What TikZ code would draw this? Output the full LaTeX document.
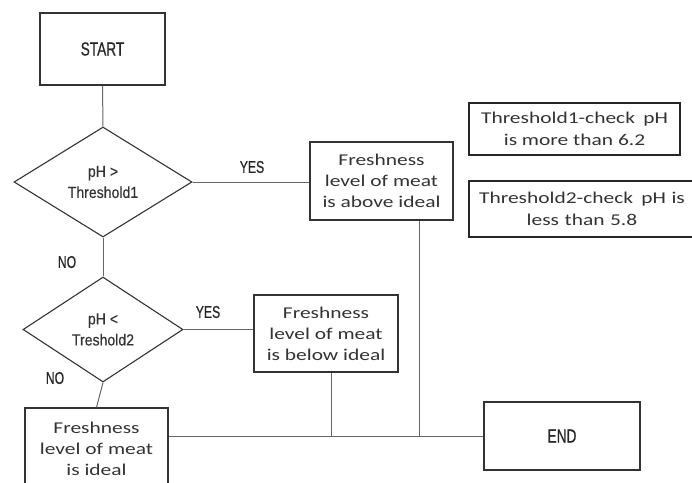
\documentclass[tikz,border=0pt]{standalone}
\usepackage{fontspec}
\setmainfont[FakeStretch=1.3]{Carlito}
\newfontfamily\condfont[FakeStretch=0.72,FakeBold=0.6]{Liberation Sans}
\newfontfamily\diafont[FakeStretch=0.88,FakeBold=0.3]{Liberation Sans}
\usetikzlibrary{shapes.geometric}
\tikzset{
  box/.style={draw=black!80, line width=1.1pt, rectangle, align=center, inner sep=0pt, text=black!80, font=\fontsize{16.5}{21}\selectfont},
  termbox/.style={draw=black!80, line width=1.1pt, rectangle, inner sep=0pt, text=black!85, font=\condfont\fontsize{19}{20}\selectfont},
  decision/.style={draw=black!80, line width=1.1pt, diamond, shape aspect=1.6, inner sep=0pt, align=center, text=black!80, font=\diafont\fontsize{16}{21}\selectfont},
  notebox/.style={draw=black!85, line width=1.3pt, rectangle, align=center, inner sep=0pt, text=black!80, font=\fontsize{16.5}{22}\selectfont},
  lbl/.style={text=black!85, font=\condfont\fontsize{17}{18}\selectfont},
  link/.style={draw=black!60, line width=1pt}
}
\begin{document}
\begin{tikzpicture}[x=1pt,y=-1pt]
  \useasboundingbox (0,0) rectangle (692,482);
  \node[termbox, minimum width=125pt, minimum height=72pt] (start) at (102.5,49) {START};
  \node[decision, minimum width=178pt, minimum height=110pt] (d1) at (103,182) {pH >\\Threshold1};
  \node[decision, minimum width=160pt, minimum height=105pt] (d2) at (103,329.5) {pH <\\Treshold2};
  \node[box, minimum width=143pt, minimum height=78pt] (above) at (381.5,181) {Freshness\\level of meat\\is above ideal};
  \node[box, minimum width=144pt, minimum height=77pt] (below) at (326,333.5) {Freshness\\level of meat\\is below ideal};
  \node[box, minimum width=143pt, minimum height=82pt] (ideal) at (96.5,449) {Freshness\\level of meat\\is ideal};
  \node[termbox, minimum width=156pt, minimum height=68pt] (end) at (562,436) {END};
  \node[notebox, minimum width=211pt, minimum height=52pt] (th1) at (574.5,129) {Threshold1-check\enspace pH\\is more than 6.2};
  \node[notebox, minimum width=230pt, minimum height=56pt, text width=226pt] (th2) at (584,209) {\hspace*{-4pt}Threshold2-check\enspace pH is\\\hspace*{-4pt}less than 5.8};

  \node[lbl] (yes1) at (252,167) {YES};
  \node[lbl] (no1) at (67,262) {NO};
  \node[lbl] (yes2) at (208,312) {YES};
  \node[lbl] (no2) at (55,378) {NO};

  \coordinate (j1) at (419,436);
  \coordinate (j2) at (331,436);

  \draw[link] (start.south) -- (d1.north);
  \draw[link] (d1.east) -- (d1.east -| above.west);
  \draw[link] (d1.south) -- (d2.north);
  \draw[link] (d2.east) -- (d2.east -| below.west);
  \draw[link] (d2.south) -- (ideal.north);
  \draw[link] (end.west) -- (end.west -| ideal.east);
  \draw[link] (above.south -| j1) -- (j1);
  \draw[link] (below.south -| j2) -- (j2);
\end{tikzpicture}
\end{document}
